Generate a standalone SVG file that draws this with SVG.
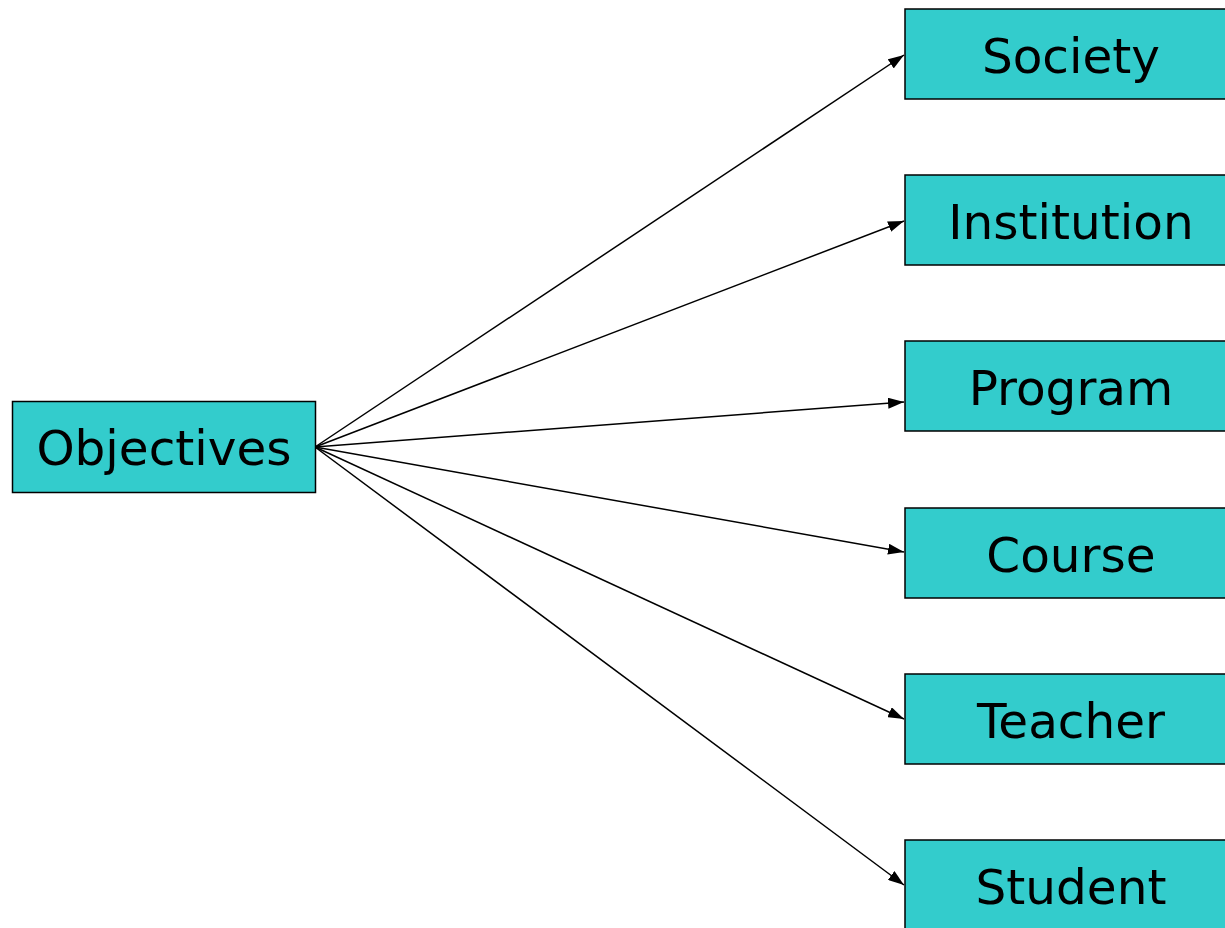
<svg xmlns="http://www.w3.org/2000/svg" width="1225" height="928" viewBox="0 0 1225 928">
<style>
.box{fill:#33CCCC;stroke:#000;stroke-width:1.5}
.lbl{font-family:"DejaVu Sans",Verdana,sans-serif;font-size:48.5px;fill:#000;text-anchor:middle}
.con{stroke:#000;stroke-width:1.5;fill:none;marker-end:url(#ah)}
</style>
<defs>
<marker id="ah" viewBox="0 0 10 10" refX="10" refY="5" markerWidth="16" markerHeight="11" markerUnits="userSpaceOnUse" orient="auto" preserveAspectRatio="none">
<path d="M0,0 L10,5 L0,10 Z" fill="#000"/>
</marker>
</defs>
<rect width="1225" height="928" fill="#fff"/>
<g id="connectors">
<line class="con" x1="315" y1="447" x2="904" y2="55"/>
<line class="con" x1="315" y1="447" x2="904" y2="221"/>
<line class="con" x1="315" y1="447" x2="904" y2="402"/>
<line class="con" x1="315" y1="447" x2="904" y2="552"/>
<line class="con" x1="315" y1="447" x2="904" y2="719"/>
<line class="con" x1="315" y1="447" x2="904" y2="885"/>
</g>
<g id="node-objectives">
<rect class="box" x="12.5" y="401.5" width="303" height="91"/>
<text class="lbl" x="164" y="465">Objectives</text>
</g>
<g id="node-society">
<rect class="box" x="905" y="9" width="335" height="90"/>
<text class="lbl" x="1071" y="73">Society</text>
</g>
<g id="node-institution">
<rect class="box" x="905" y="175" width="335" height="90"/>
<text class="lbl" x="1071" y="239">Institution</text>
</g>
<g id="node-program">
<rect class="box" x="905" y="341" width="335" height="90"/>
<text class="lbl" x="1071" y="405">Program</text>
</g>
<g id="node-course">
<rect class="box" x="905" y="508" width="335" height="90"/>
<text class="lbl" x="1071" y="572">Course</text>
</g>
<g id="node-teacher">
<rect class="box" x="905" y="674" width="335" height="90"/>
<text class="lbl" x="1071" y="738">Teacher</text>
</g>
<g id="node-student">
<rect class="box" x="905" y="840" width="335" height="90"/>
<text class="lbl" x="1071" y="904">Student</text>
</g>
</svg>
